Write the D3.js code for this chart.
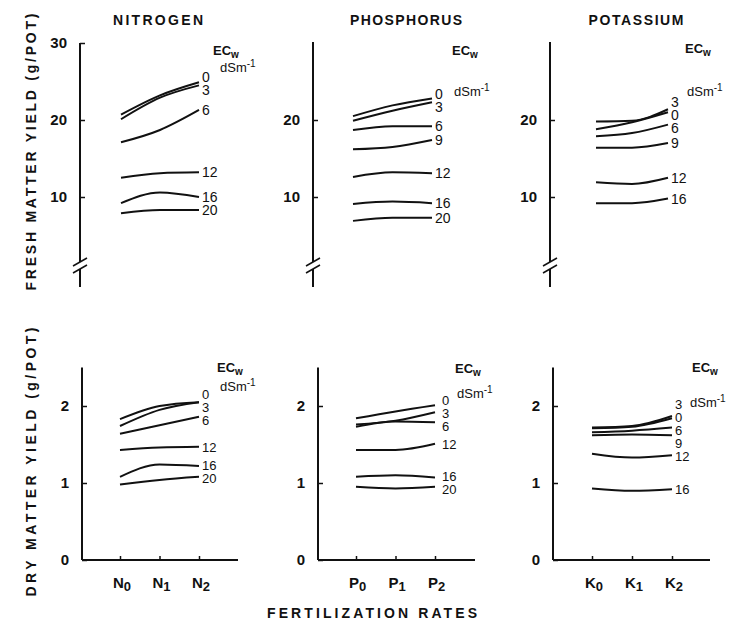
<!DOCTYPE html>
<html>
<head>
<meta charset="utf-8">
<script src="https://cdn.jsdelivr.net/npm/d3@7"></script>
<style>
  body { margin: 0; background: #fff; }
  text { font-family: "Liberation Sans", Arial, sans-serif; fill: #111; }
</style>
</head>
<body>
<script>
// ---- data ----
const nutrientNames = ["NITROGEN", "PHOSPHORUS", "POTASSIUM"];
const rateLetters = ["N", "P", "K"];
const rateIndex = ["0", "1", "2"];

const freshTicksFirst = [10, 20, 30];
const freshTicksOther = [10, 20];
const dryTicks = [0, 1, 2];

const freshNitrogenEC = ["0", "3", "6", "12", "16", "20"];
const freshNitrogen = [[20.7, 23.2, 24.9], [20.1, 22.9, 24.5], [17.1, 18.7, 21.3], [12.5, 13.1, 13.2], [9.2, 10.6, 10.0], [7.9, 8.3, 8.3]];

const freshPhosphorusEC = ["0", "3", "6", "9", "12", "16", "20"];
const freshPhosphorus = [[20.5, 21.9, 22.8], [19.9, 21.2, 22.3], [18.7, 19.2, 19.2], [16.2, 16.5, 17.4], [12.6, 13.2, 13.1], [9.1, 9.4, 9.2], [6.9, 7.3, 7.3]];

const freshPotassiumEC = ["3", "0", "6", "9", "12", "16"];
const freshPotassium = [[19.8, 19.9, 21.4], [18.8, 19.7, 21.0], [17.9, 18.3, 19.4], [16.4, 16.4, 17.0], [11.9, 11.7, 12.5], [9.2, 9.2, 9.8]];

const dryNitrogenEC = ["0", "3", "6", "12", "16", "20"];
const dryNitrogen = [[1.83, 2.0, 2.05], [1.74, 1.95, 2.05], [1.64, 1.75, 1.86], [1.43, 1.46, 1.47], [1.08, 1.24, 1.22], [0.98, 1.04, 1.08]];

const dryPhosphorusEC = ["0", "3", "6", "12", "16", "20"];
const dryPhosphorus = [[1.84, 1.93, 2.01], [1.76, 1.81, 1.92], [1.73, 1.80, 1.79], [1.43, 1.43, 1.51], [1.08, 1.10, 1.07], [0.95, 0.93, 0.95]];

const dryPotassiumEC = ["3", "0", "6", "9", "12", "16"];
const dryPotassium = [[1.72, 1.74, 1.87], [1.71, 1.73, 1.84], [1.66, 1.68, 1.72], [1.62, 1.63, 1.62], [1.38, 1.33, 1.36], [0.93, 0.90, 0.92]];

// ---- layout ----
const W = 748, H = 629;
const svg = d3.select("body").append("svg").attr("width", W).attr("height", H);

const yFresh = d3.scaleLinear().domain([0, 30]).range([274, 43]);
const yDry = d3.scaleLinear().domain([0, 2.5]).range([560, 367.5]);

// ec: [ECw x, y, dSm x, y], lab: gap between line end and its label
const columns = [
  {axisTop: 80, axisBottom: 82, catsTop: [121, 199], catsBottom: [120, 199], xEnd: 238, titleX: 158, titleLen: 90,
   ecTop: [213, 55, 220, 72], ecBottom: [217, 372, 220, 391], labTop: 3, labBottom: 3},
  {axisTop: 313, axisBottom: 318, catsTop: [353, 432], catsBottom: [356, 435], xEnd: 475, titleX: 406, titleLen: 112,
   ecTop: [452, 55, 454, 96], ecBottom: [455, 373, 457, 398], labTop: 3, labBottom: 7},
  {axisTop: 550, axisBottom: 553, catsTop: [596, 668], catsBottom: [592, 672], xEnd: 710, titleX: 636, titleLen: 95,
   ecTop: [685, 53, 687, 96], ecBottom: [692, 372, 690, 407], labTop: 3, labBottom: 3}
];

const freshPanels = [
  {ec: freshNitrogenEC, values: freshNitrogen},
  {ec: freshPhosphorusEC, values: freshPhosphorus},
  {ec: freshPotassiumEC, values: freshPotassium}
];
const dryPanels = [
  {ec: dryNitrogenEC, values: dryNitrogen},
  {ec: dryPhosphorusEC, values: dryPhosphorus},
  {ec: dryPotassiumEC, values: dryPotassium}
];

const line = d3.line().curve(d3.curveMonotoneX);

// spread labels vertically so they don't sit on each other
function spreadLabels(items, gap) {
  items.sort((a, b) => a.y - b.y);
  for (let it = 0; it < 80; it++) {
    for (let i = 1; i < items.length; i++) {
      let d = items[i].y - items[i - 1].y;
      if (d < gap) {
        let push = (gap - d) / 2;
        items[i - 1].y -= push;
        items[i].y += push;
      }
    }
  }
  return items;
}

function ecLabel(g, x, y, x2, y2) {
  let t = g.append("text").attr("x", x).attr("y", y).attr("font-size", 13).attr("font-weight", "bold");
  t.append("tspan").text("EC");
  t.append("tspan").attr("dy", 3).attr("font-size", 10).text("w");
  let u = g.append("text").attr("x", x2).attr("y", y2).attr("font-size", 13);
  u.append("tspan").text("dSm");
  u.append("tspan").attr("dy", -5).attr("font-size", 10).text("-1");
}

function drawPanel(col, panel, yScale, cats, isTop, ci) {
  const g = svg.append("g");
  const x = d3.scalePoint().domain(rateIndex).range(cats);

  panel.values.forEach(vals => {
    g.append("path")
      .attr("d", line(vals.map((v, i) => [x(rateIndex[i]), yScale(v)])))
      .attr("fill", "none").attr("stroke", "#111").attr("stroke-width", 2);
  });

  const labels = spreadLabels(panel.values.map((vals, i) => ({
    text: panel.ec[i], y: yScale(vals[vals.length - 1])
  })), 13);
  g.selectAll("text.ec").data(labels).join("text")
    .attr("class", "ec")
    .attr("x", x(rateIndex[2]) + (isTop ? col.labTop : col.labBottom))
    .attr("y", d => d.y + 5)
    .attr("font-size", isTop ? 14 : 13)
    .text(d => d.text);

  const e = isTop ? col.ecTop : col.ecBottom;
  ecLabel(g, e[0], e[1], e[2], e[3]);

  const ax = isTop ? col.axisTop : col.axisBottom;
  const ticks = isTop ? (ci === 0 ? freshTicksFirst : freshTicksOther) : dryTicks;
  const yAxis = d3.axisLeft(yScale).tickValues(ticks).tickSize(-5).tickPadding(13).tickFormat(d3.format("d"));
  const ga = g.append("g").attr("transform", `translate(${ax},0)`).call(yAxis);
  ga.select(".domain").remove();
  ga.selectAll(".tick line").attr("stroke", "#111").attr("stroke-width", 1.5);
  ga.selectAll(".tick text").attr("font-size", 15).attr("font-weight", "bold")
    .attr("font-family", "'Liberation Sans', Arial, sans-serif").attr("fill", "#111");

  if (isTop) {
    const yTop = yScale(30) - (ci === 0 ? 0 : 1);
    g.append("line").attr("x1", ax).attr("x2", ax).attr("y1", yTop).attr("y2", 262)
      .attr("stroke", "#111").attr("stroke-width", 2);
    g.append("line").attr("x1", ax).attr("x2", ax).attr("y1", 269).attr("y2", 287)
      .attr("stroke", "#111").attr("stroke-width", 2);
    [262, 269].forEach(yb => {
      g.append("line").attr("x1", ax - 7).attr("y1", yb + 4).attr("x2", ax + 7).attr("y2", yb - 4)
        .attr("stroke", "#111").attr("stroke-width", 1.5);
    });
    g.append("text").attr("x", col.titleX).attr("y", 25).attr("text-anchor", "middle")
      .attr("font-size", 14).attr("font-weight", "bold")
      .attr("textLength", col.titleLen).attr("lengthAdjust", "spacing")
      .text(nutrientNames[ci]);
  } else {
    g.append("line").attr("x1", ax).attr("x2", ax).attr("y1", yScale(2.5)).attr("y2", yScale(0))
      .attr("stroke", "#111").attr("stroke-width", 2);
    g.append("line").attr("x1", ax).attr("x2", col.xEnd).attr("y1", yScale(0)).attr("y2", yScale(0))
      .attr("stroke", "#111").attr("stroke-width", 2);
    const xAxis = d3.axisBottom(x).tickSize(-4).tickFormat("");
    const gx = g.append("g").attr("transform", `translate(0,${yScale(0)})`).call(xAxis);
    gx.select(".domain").remove();
    gx.selectAll(".tick line").attr("stroke", "#111").attr("stroke-width", 1.5);
    rateIndex.forEach(r => {
      const t = g.append("text").attr("x", x(r) - 7).attr("y", 588).attr("font-size", 15).attr("font-weight", "bold");
      t.append("tspan").text(rateLetters[ci]);
      t.append("tspan").attr("dy", 3).attr("font-size", 13).text(r);
    });
  }
}

columns.forEach((col, ci) => {
  drawPanel(col, freshPanels[ci], yFresh, col.catsTop, true, ci);
  drawPanel(col, dryPanels[ci], yDry, col.catsBottom, false, ci);
});

// axis titles
svg.append("text").attr("transform", "translate(36,152) rotate(-90)").attr("text-anchor", "middle")
  .attr("font-size", 14).attr("font-weight", "bold")
  .attr("textLength", 277).attr("lengthAdjust", "spacing")
  .text("FRESH  MATTER  YIELD  (g/POT)");
svg.append("text").attr("transform", "translate(36,462) rotate(-90)").attr("text-anchor", "middle")
  .attr("font-size", 14).attr("font-weight", "bold")
  .attr("textLength", 269).attr("lengthAdjust", "spacing")
  .text("DRY  MATTER  YIELD  (g/POT)");
svg.append("text").attr("x", 372).attr("y", 618).attr("text-anchor", "middle")
  .attr("font-size", 14).attr("font-weight", "bold")
  .attr("textLength", 210).attr("lengthAdjust", "spacing")
  .text("FERTILIZATION  RATES");
</script>
</body>
</html>
